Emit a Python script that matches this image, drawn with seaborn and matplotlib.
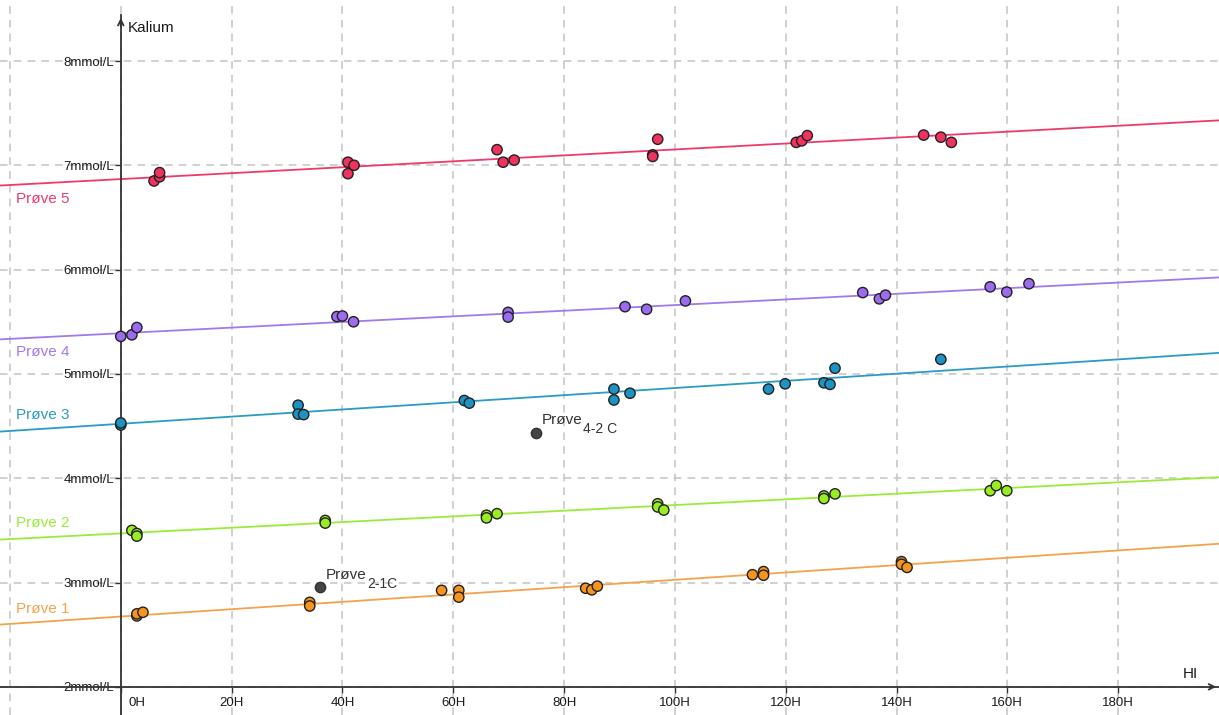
import numpy as np
import pandas as pd
import matplotlib
matplotlib.use("Agg")
import matplotlib.pyplot as plt
import seaborn as sns

# Kalium-verdier per prøve (x = timer, y = mmol/L)
p1_x = [2.9, 2.9, 4.0, 34.1, 34.1, 57.9, 61.0, 61.0, 83.9, 85.0, 86.0, 114.0, 116.0, 116.0, 140.9, 140.9, 141.9]
p1_y = [2.68, 2.70, 2.715, 2.81, 2.775, 2.925, 2.925, 2.86, 2.945, 2.93, 2.965, 3.075, 3.105, 3.07, 3.20, 3.175, 3.145]

p2_x = [2.0, 2.9, 2.9, 36.9, 36.9, 66.0, 66.0, 67.9, 96.9, 96.9, 98.0, 126.9, 126.9, 128.9, 156.9, 158.0, 159.9]
p2_y = [3.50, 3.47, 3.445, 3.595, 3.57, 3.645, 3.62, 3.66, 3.755, 3.725, 3.695, 3.83, 3.805, 3.85, 3.88, 3.93, 3.88]

p3_x = [0.0, 0.0, 32.0, 32.0, 33.0, 62.0, 62.9, 89.0, 89.0, 91.9, 116.9, 119.9, 126.9, 128.0, 128.9, 148.0]
p3_y = [4.51, 4.53, 4.70, 4.615, 4.61, 4.745, 4.72, 4.855, 4.75, 4.815, 4.855, 4.905, 4.915, 4.90, 5.055, 5.14]

p4_x = [0.0, 2.0, 2.9, 39.0, 40.0, 42.0, 69.9, 69.9, 91.0, 94.9, 101.9, 133.9, 136.9, 138.0, 156.9, 159.9, 163.9]
p4_y = [5.36, 5.375, 5.445, 5.55, 5.555, 5.50, 5.59, 5.545, 5.645, 5.62, 5.70, 5.78, 5.72, 5.755, 5.835, 5.785, 5.865]

p5_x = [6.0, 7.0, 7.0, 41.0, 42.1, 41.0, 67.9, 69.0, 71.0, 96.0, 96.0, 96.9, 121.9, 122.9, 123.9, 144.9, 148.0, 149.9]
p5_y = [6.85, 6.89, 6.93, 7.03, 7.00, 6.92, 7.15, 7.03, 7.05, 7.10, 7.085, 7.25, 7.22, 7.235, 7.285, 7.29, 7.27, 7.22]

# trendlinjer (skjæring og stigning lest av figuren)
series = ["Prøve 1", "Prøve 2", "Prøve 3", "Prøve 4", "Prøve 5"]
fit_b = [2.674, 3.471, 4.522, 5.39, 6.868]
fit_m = [0.00352, 0.00272, 0.00343, 0.0027, 0.00284]
label_y = [2.75, 3.57, 4.61, 5.21, 6.68]

# kontrollpunkter
ctrl_x = [36.0, 74.9]
ctrl_y = [2.956, 4.435]
ctrl_sub = ["2-1C", "4-2 C"]

x_ticks = list(range(-20, 200, 20))
y_ticks = list(range(2, 9))

point_cols = ["#F7941D", "#99EE22", "#1C93C2", "#9C6BEF", "#F0325F"]
line_cols = ["#F4A24E", "#9BEB3A", "#2A9BC4", "#A17AEE", "#EE3A6A"]

sns.set_style("white")
plt.rcParams["font.family"] = ["Liberation Sans", "DejaVu Sans"]

xs = [p1_x, p2_x, p3_x, p4_x, p5_x]
ys = [p1_y, p2_y, p3_y, p4_y, p5_y]
df = pd.concat([pd.DataFrame({"t": x, "k": y, "prove": s}) for x, y, s in zip(xs, ys, series)],
               ignore_index=True)

fig = plt.figure(figsize=(12.19, 7.15), dpi=100)
ax = fig.add_axes([0, 0, 1, 1])
ax.set_xlim(-21.8, 198.2)
ax.set_ylim(1.73, 8.585)

ax.set_xticks(x_ticks)
ax.set_xticklabels(["" if v <= 0 else f"{v}H" for v in x_ticks])
ax.set_yticks(y_ticks)
ax.set_yticklabels([f"{v}mmol/L" for v in y_ticks])
ax.grid(True, color="#c4c4c4", lw=1.1, ls=(0, (5, 4)))
ax.set_axisbelow(True)

for sp in ["top", "right"]:
    ax.spines[sp].set_visible(False)
ax.spines["left"].set_position(("data", 0))
ax.spines["bottom"].set_position(("data", 2))
ax.spines["left"].set_bounds(1.73, 8.44)
for sp in ["left", "bottom"]:
    ax.spines[sp].set_color("#333333")
    ax.spines[sp].set_linewidth(1.3)
ax.tick_params(axis="both", which="both", direction="out", length=4, width=1,
               color="#333333", labelsize=9.5, labelcolor="#1a1a1a", pad=1)
ax.tick_params(axis="x", pad=3)
ax.tick_params(left=True, bottom=True)
ax.xaxis.get_major_ticks()[0].tick1line.set_visible(False)

# pilspisser
ax.annotate("", xy=(0, 8.44), xytext=(0, 8.3),
            arrowprops=dict(arrowstyle="->", color="#333333", lw=1.3))
ax.annotate("", xy=(198.2, 2), xytext=(196, 2),
            arrowprops=dict(arrowstyle="->", color="#333333", lw=1.3))
ax.text(1.2, 8.32, "Kalium", fontsize=11, color="#1a1a1a", va="center", ha="left")
ax.text(193, 2.06, "HI", fontsize=11, color="#1a1a1a", va="bottom", ha="center")
ax.annotate("0H", xy=(0, 2), xytext=(12, -7), textcoords="offset points",
            ha="center", va="top", fontsize=9.5, color="#1a1a1a")

for b, m, c, s, ly in zip(fit_b, fit_m, line_cols, series, label_y):
    ax.axline((0, b), slope=m, color=c, lw=1.3, zorder=2)
    ax.text(-19.0, ly, s, color=c, fontsize=11, va="center", ha="left")

sns.scatterplot(data=df, x="t", y="k", hue="prove", palette=point_cols, s=55,
                edgecolor="#222222", linewidth=1.0, legend=False, ax=ax, zorder=3)

ax.scatter(ctrl_x, ctrl_y, s=55, color="#444444", edgecolor="#333333", lw=1, zorder=3)
for cx, cy, sub in zip(ctrl_x, ctrl_y, ctrl_sub):
    ax.annotate("Prøve", xy=(cx, cy), xytext=(4, 4), textcoords="offset points",
                fontsize=11, color="#333333", ha="left", va="bottom")
    ax.annotate(sub, xy=(cx, cy), xytext=(34, -2.5), textcoords="offset points",
                fontsize=10, color="#333333", ha="left", va="bottom")

ax.set_xlabel("")
ax.set_ylabel("")
fig.savefig("out.png", dpi=100)
